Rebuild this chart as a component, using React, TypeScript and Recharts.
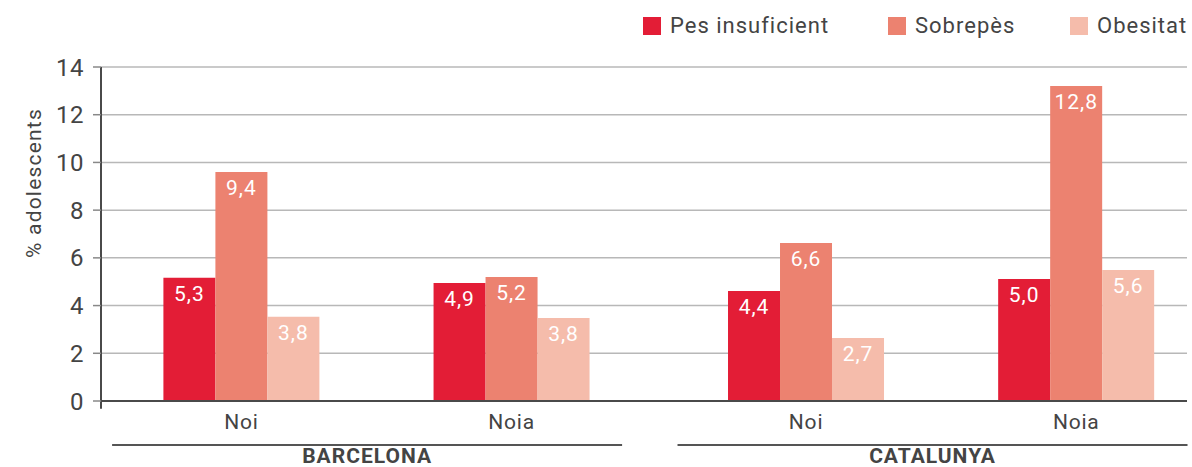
import React from 'react';
import { BarChart, Bar, XAxis, YAxis, CartesianGrid, LabelList, ReferenceLine } from 'recharts';

// categories (sex) and the two regions they belong to
const categories = ['Noi', 'Noia', 'Noi', 'Noia'];
const categoryPos = [0.52, 1.52, 2.61, 3.61];
const regions = ['BARCELONA', 'CATALUNYA'];
const regionPos = [0.985, 3.078];

// bar heights as drawn in the chart
const pesInsuficient = [5.17, 4.95, 4.61, 5.11];
const sobrepes = [9.6, 5.2, 6.62, 13.2];
const obesitat = [3.53, 3.48, 2.64, 5.49];

// printed value labels
const pesInsuficientLabels = ['5,3', '4,9', '4,4', '5,0'];
const sobrepesLabels = ['9,4', '5,2', '6,6', '12,8'];
const obesitatLabels = ['3,8', '3,8', '2,7', '5,6'];

const yTicks = [0, 2, 4, 6, 8, 10, 12, 14];

const series = [
  { key: 'pes', name: 'Pes insuficient', color: '#e31d36' },
  { key: 'sobrepes', name: 'Sobrepès', color: '#ec8270' },
  { key: 'obesitat', name: 'Obesitat', color: '#f5bcab' },
];

const data = categories.map((c, i) => ({
  name: c,
  pos: categoryPos[i],
  pes: pesInsuficient[i],
  sobrepes: sobrepes[i],
  obesitat: obesitat[i],
  pesLabel: pesInsuficientLabels[i],
  sobrepesLabel: sobrepesLabels[i],
  obesitatLabel: obesitatLabels[i],
}));

const FONT = 'Roboto, "Noto Sans", sans-serif';
const TEXT = '#444444';
const legendLeft = [643, 888, 1070];

const RegionTick = (props: any) => {
  const { x, y, index } = props;
  return (
    <g>
      <line x1={x - 255} x2={x + 255} y1={y - 2} y2={y - 2} stroke="#555" strokeWidth={2} />
      <text
        x={x}
        y={y + 16}
        textAnchor="middle"
        fontFamily={FONT}
        fontSize={21}
        fontWeight={700}
        letterSpacing={1}
        fill={TEXT}
      >
        {regions[index]}
      </text>
    </g>
  );
};

const YLabel = () => (
  <text
    x={41}
    y={183}
    transform="rotate(-90 41 183)"
    textAnchor="middle"
    fontFamily={FONT}
    fontSize={21}
    letterSpacing={1.2}
    fill={TEXT}
  >
    % adolescents
  </text>
);

const App: React.FC = () => {
  return (
    <div style={{ position: 'absolute', left: 0, top: 0, width: 1192, height: 467, fontFamily: FONT }}>
      {/* legend */}
      {series.map((s, i) => (
        <div
          key={s.key}
          style={{
            position: 'absolute',
            top: 13,
            left: legendLeft[i],
            display: 'flex',
            alignItems: 'center',
            color: TEXT,
            fontSize: 22,
            letterSpacing: 1,
            whiteSpace: 'nowrap',
          }}
        >
          <span style={{ width: 18, height: 18, background: s.color, display: 'inline-block', marginRight: 9 }} />
          <span>{s.name}</span>
        </div>
      ))}

      <BarChart
        width={1192}
        height={467}
        data={data}
        margin={{ top: 67, right: 5, left: 0, bottom: 0 }}
        barSize={52}
        barGap={0}
      >
        <CartesianGrid vertical={false} stroke="#b8b8b8" strokeWidth={1.5} />
        <XAxis
          dataKey="pos"
          type="number"
          domain={[0, 4.02]}
          ticks={categoryPos}
          tickFormatter={(v: number) => categories[categoryPos.indexOf(v)] ?? ''}
          axisLine={{ stroke: '#4a4a4a', strokeWidth: 2 }}
          tickLine={false}
          tick={{ fill: TEXT, fontSize: 21, fontFamily: FONT, letterSpacing: 0.8 }}
          tickMargin={7}
          height={38}
          interval={0}
        />
        <XAxis
          xAxisId="region"
          dataKey="pos"
          type="number"
          domain={[0, 4.02]}
          ticks={regionPos}
          axisLine={false}
          tickLine={false}
          tick={<RegionTick />}
          height={28}
          interval={0}
        />
        <YAxis
          domain={[0, 14]}
          ticks={yTicks}
          width={101}
          axisLine={{ stroke: '#4a4a4a', strokeWidth: 2 }}
          tickLine={{ stroke: '#888', strokeWidth: 1.5 }}
          tickSize={8}
          tickMargin={9}
          tick={{ fill: TEXT, fontSize: 24, fontFamily: FONT, letterSpacing: 0.5 }}
          label={<YLabel />}
        />
        <ReferenceLine
          segment={[{ x: 0, y: 0 }, { x: 0, y: -0.33 }]}
          stroke="#4a4a4a"
          strokeWidth={2}
          ifOverflow="visible"
        />
        {series.map((s) => (
          <Bar key={s.key} dataKey={s.key} name={s.name} fill={s.color} isAnimationActive={false}>
            <LabelList
              dataKey={`${s.key}Label`}
              position="insideTop"
              offset={8}
              fill="#ffffff"
              fontSize={21}
              fontFamily={FONT}
              letterSpacing={1}
            />
          </Bar>
        ))}
      </BarChart>
    </div>
  );
};

export default App;
